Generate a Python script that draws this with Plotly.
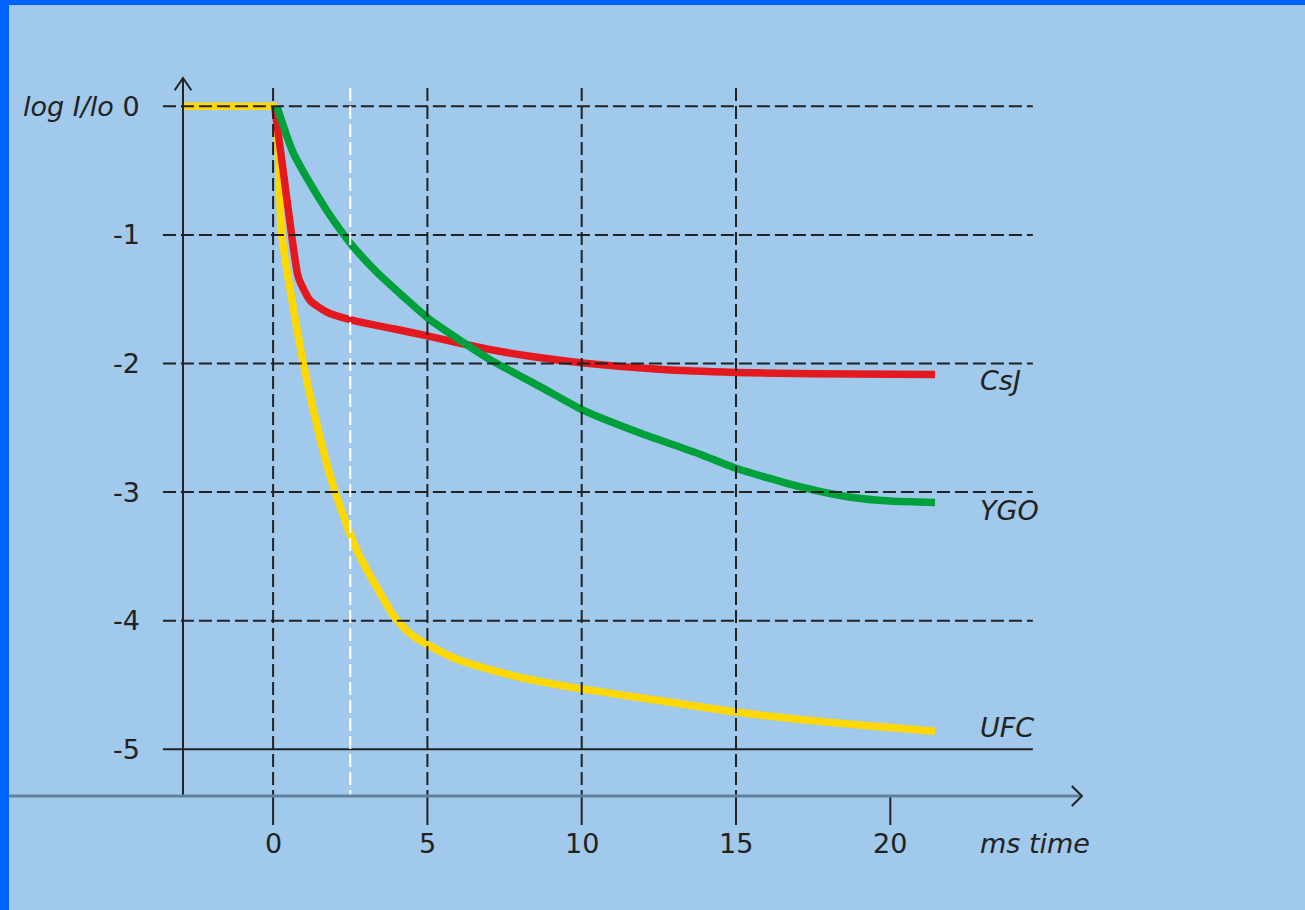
import plotly.graph_objects as go

# ---------------- data ----------------
x_ticks = [0, 5, 10, 15, 20]
x_tick_labels = ["0", "5", "10", "15", "20"]
y_ticks = [0, -1, -2, -3, -4, -5]
y_tick_labels = ["<i>log I/lo</i> 0", "-1", "-2", "-3", "-4", "-5"]
marker_time = 2.5

ufc_t = [-2.95, -0.08, 0.05, 0.28, 0.98, 1.50, 1.97, 2.25, 2.52, 2.85, 3.19, 3.50, 3.90, 4.43, 5.03, 6.06, 8.0, 10.0, 12.5, 15.0, 18.0, 21.45]
ufc_v = [0.0, 0.0, 0.0, -1.00, -2.00, -2.56, -2.97, -3.165, -3.34, -3.52, -3.67, -3.80, -3.96, -4.10, -4.19, -4.31, -4.44, -4.53, -4.62, -4.71, -4.79, -4.86]

csj_t = [0.05, 0.60, 0.82, 1.20, 1.74, 2.52, 3.90, 5.0, 6.0, 7.0, 8.5, 10.0, 12.5, 15.0, 17.5, 21.45]
csj_v = [0.0, -1.00, -1.33, -1.51, -1.60, -1.66, -1.73, -1.785, -1.84, -1.89, -1.95, -1.995, -2.045, -2.07, -2.08, -2.085]

ygo_t = [0.12, 0.40, 0.65, 1.20, 1.74, 2.52, 3.36, 4.22, 5.03, 6.06, 7.03, 8.65, 10.02, 11.89, 13.83, 15.0, 17.09, 18.71, 20.0, 21.45]
ygo_v = [0.0, -0.20, -0.36, -0.60, -0.81, -1.07, -1.29, -1.48, -1.65, -1.82, -1.97, -2.18, -2.36, -2.54, -2.705, -2.815, -2.96, -3.04, -3.07, -3.08]

series_names = ["CsJ", "YGO", "UFC"]
series_label_y = [-2.13, -3.14, -4.83]

# ---------------- style / layout constants ----------------
BG = "#a0c9eb"
BORDER = "#0062ff"
INK = "#222222"
AXIS_GRAY = "#62819e"
FONT = "DejaVu Sans"
FS = 27

X_RANGE = [-8.558, 33.438]
Y_RANGE = [-6.2496, 0.7877]

Y_AXIS_X = -2.92
Y_AXIS_TOP = 0.22
X_AXIS_Y = -5.363
X_AXIS_END = 26.21
GRID_X0 = -3.57
GRID_X1 = 24.62
VGRID_TOP = 0.142
TICK_BOTTOM = -5.589
TICKLABEL_Y = -5.729
YLABEL_X = -4.25
LABEL_X = 22.84

fig = go.Figure()

line_w = 7.5
fig.add_trace(go.Scatter(x=ufc_t, y=ufc_v, mode="lines", name="UFC",
                         line=dict(color="#ffd800", width=line_w, shape="spline", smoothing=0.6)))
fig.add_trace(go.Scatter(x=csj_t, y=csj_v, mode="lines", name="CsJ",
                         line=dict(color="#e3191f", width=line_w, shape="spline", smoothing=0.6)))
fig.add_trace(go.Scatter(x=ygo_t, y=ygo_v, mode="lines", name="YGO",
                         line=dict(color="#00a03c", width=line_w, shape="spline", smoothing=0.6)))

shapes = []
dash = "13px,5px"
# horizontal grid lines
for v in y_ticks:
    shapes.append(dict(type="line", x0=GRID_X0, x1=GRID_X1, y0=v, y1=v,
                       line=dict(color=INK, width=2, dash="solid" if v == y_ticks[-1] else dash)))
# vertical grid lines + ticks
for t in x_ticks:
    if t != x_ticks[-1]:
        shapes.append(dict(type="line", x0=t, x1=t, y0=VGRID_TOP, y1=X_AXIS_Y,
                           line=dict(color=INK, width=2, dash=dash)))
    shapes.append(dict(type="line", x0=t, x1=t, y0=X_AXIS_Y, y1=TICK_BOTTOM,
                       line=dict(color=INK, width=2)))
# white marker line
shapes.append(dict(type="line", x0=marker_time, x1=marker_time, y0=VGRID_TOP, y1=X_AXIS_Y,
                   line=dict(color="white", width=2, dash=dash)))
# y axis with arrow
shapes.append(dict(type="line", x0=Y_AXIS_X, x1=Y_AXIS_X, y0=Y_AXIS_TOP, y1=X_AXIS_Y,
                   line=dict(color=INK, width=2)))
shapes.append(dict(type="path",
                   path=f"M {Y_AXIS_X-0.27},{Y_AXIS_TOP-0.095} L {Y_AXIS_X},{Y_AXIS_TOP} L {Y_AXIS_X+0.27},{Y_AXIS_TOP-0.095}",
                   line=dict(color=INK, width=2)))
# x axis with arrow
shapes.append(dict(type="line", x0=X_RANGE[0], x1=X_AXIS_END, y0=X_AXIS_Y, y1=X_AXIS_Y,
                   line=dict(color=AXIS_GRAY, width=3)))
shapes.append(dict(type="path",
                   path=f"M {X_AXIS_END-0.33},{X_AXIS_Y+0.078} L {X_AXIS_END},{X_AXIS_Y} L {X_AXIS_END-0.33},{X_AXIS_Y-0.078}",
                   line=dict(color=INK, width=2)))

annotations = []
for t, lab in zip(x_ticks, x_tick_labels):
    annotations.append(dict(x=t, y=TICKLABEL_Y, text=lab, showarrow=False,
                            xanchor="center", yanchor="middle",
                            font=dict(family=FONT, size=FS, color=INK)))
for v, lab in zip(y_ticks, y_tick_labels):
    annotations.append(dict(x=YLABEL_X, y=v, text=lab, showarrow=False,
                            xanchor="right", yanchor="middle",
                            font=dict(family=FONT, size=FS, color=INK)))
for name, ly in zip(series_names, series_label_y):
    annotations.append(dict(x=LABEL_X, y=ly, text=f"<i>{name}</i>", showarrow=False,
                            xanchor="left", yanchor="middle",
                            font=dict(family=FONT, size=FS, color=INK)))
annotations.append(dict(x=LABEL_X, y=TICKLABEL_Y, text="<i>ms time</i>", showarrow=False,
                        xanchor="left", yanchor="middle",
                        font=dict(family=FONT, size=FS, color=INK)))

fig.update_layout(
    width=1305, height=910,
    margin=dict(l=9, r=0, t=5, b=0, pad=0),
    paper_bgcolor=BORDER, plot_bgcolor=BG,
    showlegend=False,
    xaxis=dict(range=X_RANGE, visible=False, fixedrange=True),
    yaxis=dict(range=Y_RANGE, visible=False, fixedrange=True),
    shapes=shapes, annotations=annotations,
)

fig.write_html("out.html", config={"displayModeBar": False},
               post_script="document.body.style.margin='0px';")
